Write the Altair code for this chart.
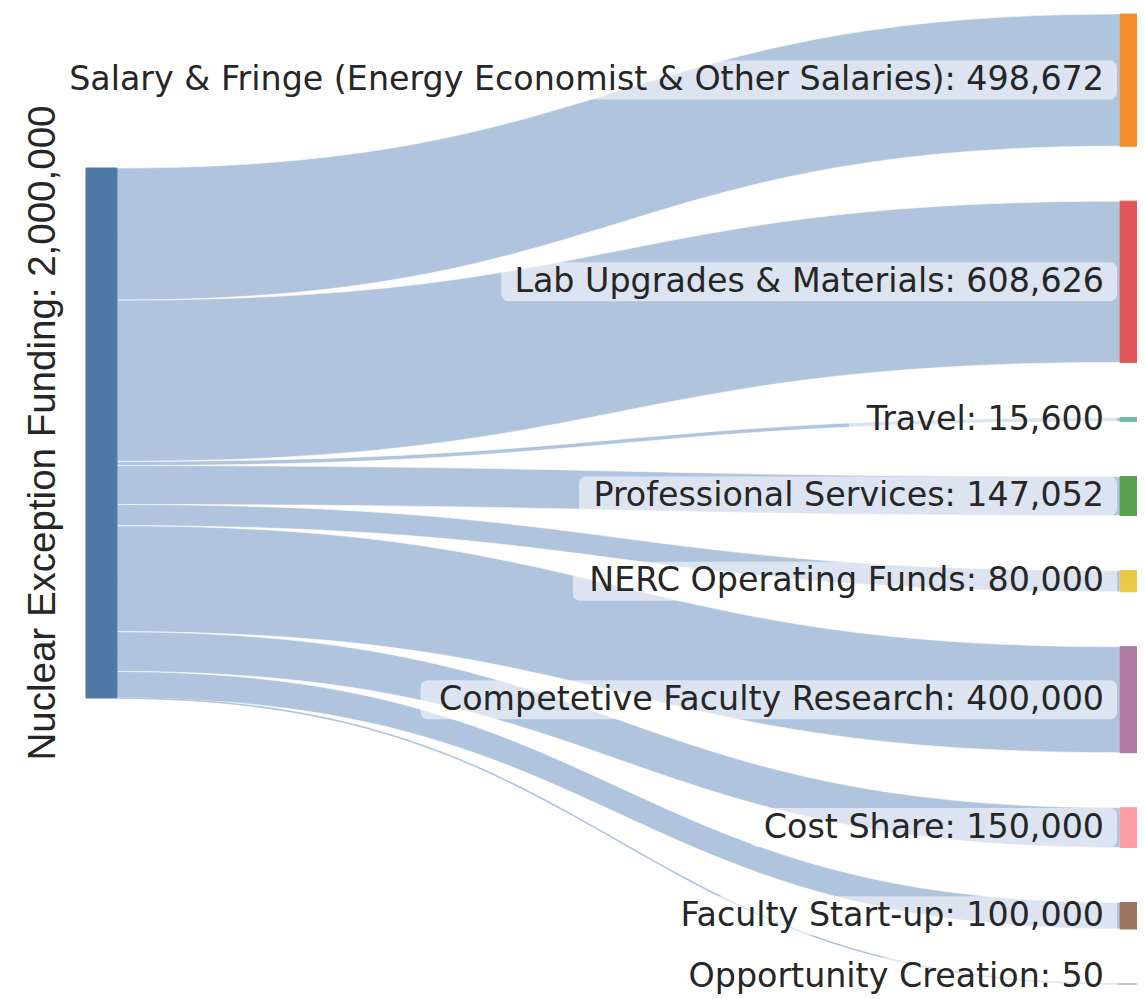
import altair as alt
import pandas as pd

# ---------------- data ----------------
source_name = "Nuclear Exception Funding"
targets = [
    "Salary & Fringe (Energy Economist & Other Salaries)",
    "Lab Upgrades & Materials",
    "Travel",
    "Professional Services",
    "NERC Operating Funds",
    "Competetive Faculty Research",
    "Cost Share",
    "Faculty Start-up",
    "Opportunity Creation",
]
amounts = [498672, 608626, 15600, 147052, 80000, 400000, 150000, 100000, 50]
node_colors = ["#f28e2b", "#e15759", "#76b7b2", "#59a14f", "#edc948",
               "#b07aa1", "#ff9da7", "#9c755f", "#bab0ac"]
source_color = "#4e79a7"
link_color = "#b0c4de"

# ---------------- layout (pixels of the plot area) ----------------
W, H = 1129, 991
total = sum(amounts)
PX_PER_UNIT = 530.0 / total          # height of the full flow in px
U = 1.0 / PX_PER_UNIT                # units per pixel
Y_DOMAIN = H * U
GAP = 55 * U
TOP_R = 6 * U
TOP_L = 160 * U
X_L0, X_L1 = 78, 109
X_R0, X_R1 = 1112, 1145
TEXT_RIGHT = 1096
FS = 33.3
BOX_PAD_L, BOX_PAD_R = 13, 13
BOX_HALF = 19.5 * U
LABEL_MAX_Y = (H - 22) * U           # keep label text inside the view

# DejaVu Sans advance widths (units per 2048 em)
DV = {" ": 651, "&": 1597, "(": 799, ")": 799, ",": 651, "-": 739, ".": 651, ":": 690,
      "A": 1401, "B": 1405, "C": 1430, "D": 1577, "E": 1294, "F": 1178, "G": 1587, "H": 1540,
      "I": 604, "J": 604, "K": 1343, "L": 1141, "M": 1767, "N": 1532, "O": 1612, "P": 1235,
      "Q": 1612, "R": 1423, "S": 1300, "T": 1251, "U": 1499, "V": 1401, "W": 2025, "X": 1403,
      "Y": 1251, "Z": 1403,
      "a": 1255, "b": 1300, "c": 1126, "d": 1300, "e": 1260, "f": 721, "g": 1300, "h": 1298,
      "i": 569, "j": 569, "k": 1186, "l": 569, "m": 1995, "n": 1298, "o": 1253, "p": 1300,
      "q": 1300, "r": 842, "s": 1067, "t": 803, "u": 1298, "v": 1212, "w": 1675, "x": 1212,
      "y": 1212, "z": 1075}
for d in "0123456789":
    DV[d] = 1303


def text_width(s, fs):
    return sum(DV.get(ch, 1250) for ch in s) / 2048.0 * fs


rows = []
cum = 0
for i, (name, val) in enumerate(zip(targets, amounts)):
    src_top = TOP_L + cum
    tgt_top = TOP_R + cum + i * GAP
    label = f"{name}: {val:,}"
    tw = text_width(label, FS)
    ymid = tgt_top + val / 2.0
    ylab = min(ymid, LABEL_MAX_Y)
    rows.append(dict(target=name, value=val, src_top=src_top, tgt_top=tgt_top,
                     label=label, ymid=ymid, ylab=ylab,
                     box_x0=TEXT_RIGHT - tw - BOX_PAD_L, box_x1=TEXT_RIGHT + BOX_PAD_R,
                     text_x=TEXT_RIGHT, color=node_colors[i]))
    cum += val
links = pd.DataFrame(rows)
links["box_y0"] = links["ylab"] - BOX_HALF
links["box_y1"] = links["ylab"] + BOX_HALF

nodes = pd.DataFrame(
    [dict(name=source_name, top=TOP_L, bottom=TOP_L + total, x0=X_L0, x1=X_L1, color=source_color)]
    + [dict(name=r["target"], top=r["tgt_top"], bottom=r["tgt_top"] + r["value"],
            x0=X_R0, x1=X_R1, color=r["color"]) for r in rows]
)

left_label = pd.DataFrame([dict(label=f"{source_name}: {total:,}", x=47, y=TOP_L + total / 2.0)])

xs = alt.Scale(domain=[0, W], nice=False, zero=False)
ys = alt.Scale(domain=[0, Y_DOMAIN], nice=False, zero=False, reverse=True)

curve = (
    alt.Chart(links)
    .transform_calculate(t="sequence(0, 1.0001, 0.02)")
    .transform_flatten(["t"])
    .transform_calculate(px=f"{X_L1} + ({X_R0} - {X_L1}) * (1.5*datum.t - 1.5*datum.t*datum.t + pow(datum.t, 3))")
    .transform_calculate(s="3*datum.t*datum.t - 2*pow(datum.t, 3)")
    .transform_calculate(ytop="datum.src_top + (datum.tgt_top - datum.src_top) * datum.s")
    .transform_calculate(ybot="datum.ytop + datum.value")
    .transform_calculate(yc="datum.ytop + datum.value / 2")
)

link_areas = curve.mark_area(color=link_color, stroke="white", strokeWidth=0.6, interpolate="linear").encode(
    x=alt.X("px:Q", scale=xs, axis=None),
    y=alt.Y("ytop:Q", scale=ys, axis=None),
    y2="ybot:Q",
    detail="target:N",
)

link_lines = curve.mark_line(color=link_color, strokeWidth=1.6).encode(
    x=alt.X("px:Q", scale=xs, axis=None),
    y=alt.Y("yc:Q", scale=ys, axis=None),
    detail="target:N",
)

node_rects = alt.Chart(nodes).mark_rect(strokeWidth=1).encode(
    x=alt.X("x0:Q", scale=xs, axis=None),
    x2="x1:Q",
    y=alt.Y("top:Q", scale=ys, axis=None),
    y2="bottom:Q",
    color=alt.Color("color:N", scale=None),
    stroke=alt.Stroke("color:N", scale=None),
)

boxes = alt.Chart(links).mark_rect(color="white", opacity=0.55, cornerRadius=7).encode(
    x=alt.X("box_x0:Q", scale=xs, axis=None),
    x2="box_x1:Q",
    y=alt.Y("box_y0:Q", scale=ys, axis=None),
    y2="box_y1:Q",
)

labels = alt.Chart(links).mark_text(align="right", baseline="middle", font="DejaVu Sans",
                                    fontSize=FS, color="#262626").encode(
    x=alt.X("text_x:Q", scale=xs, axis=None),
    y=alt.Y("ylab:Q", scale=ys, axis=None),
    text="label:N",
)

left_text = alt.Chart(left_label).mark_text(align="center", baseline="alphabetic", angle=270,
                                            font="Liberation Sans", fontSize=38.5,
                                            color="#262626").encode(
    x=alt.X("x:Q", scale=xs, axis=None),
    y=alt.Y("y:Q", scale=ys, axis=None),
    text="label:N",
)

chart = (
    alt.layer(link_areas, link_lines, node_rects, boxes, labels, left_text)
    .properties(width=W, height=H, autosize=alt.AutoSizeParams(type="none"), padding=0)
    .configure_view(stroke=None)
)

chart.save("out.html", embed_options={"renderer": "svg", "actions": False})
